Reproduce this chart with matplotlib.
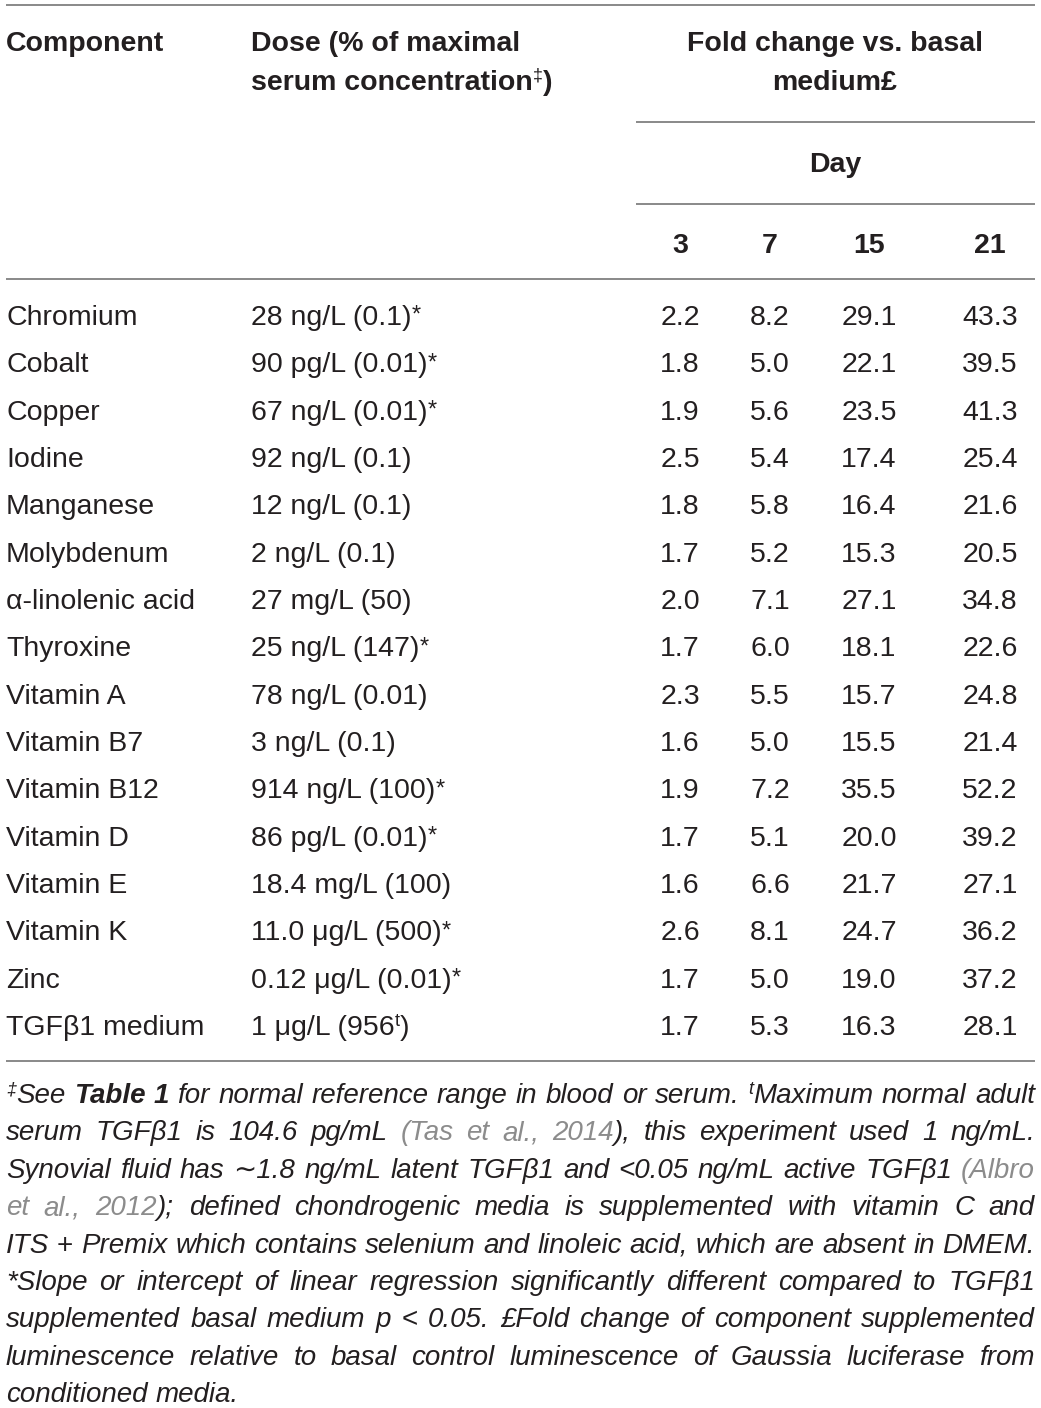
import matplotlib
matplotlib.use("Agg")
import matplotlib.pyplot as plt

# table contents
components = ["Chromium", "Cobalt", "Copper", "Iodine", "Manganese", "Molybdenum",
              "α-linolenic acid", "Thyroxine", "Vitamin A", "Vitamin B7", "Vitamin B12",
              "Vitamin D", "Vitamin E", "Vitamin K", "Zinc", "TGFβ1 medium"]
# '^' toggles superscript
doses = ["28 ng/L (0.1)^*", "90 pg/L (0.01)^*", "67 ng/L (0.01)^*", "92 ng/L (0.1)",
         "12 ng/L (0.1)", "2 ng/L (0.1)", "27 mg/L (50)", "25 ng/L (147)^*",
         "78 ng/L (0.01)", "3 ng/L (0.1)", "914 ng/L (100)^*", "86 pg/L (0.01)^*",
         "18.4 mg/L (100)", "11.0 μg/L (500)^*", "0.12 μg/L (0.01)^*", "1 μg/L (956^t^)"]
days = ["3", "7", "15", "21"]
day3 = [2.2, 1.8, 1.9, 2.5, 1.8, 1.7, 2.0, 1.7, 2.3, 1.6, 1.9, 1.7, 1.6, 2.6, 1.7, 1.7]
day7 = [8.2, 5.0, 5.6, 5.4, 5.8, 5.2, 7.1, 6.0, 5.5, 5.0, 7.2, 5.1, 6.6, 8.1, 5.0, 5.3]
day15 = [29.1, 22.1, 23.5, 17.4, 16.4, 15.3, 27.1, 18.1, 15.7, 15.5, 35.5, 20.0, 21.7, 24.7, 19.0, 16.3]
day21 = [43.3, 39.5, 41.3, 25.4, 21.6, 20.5, 34.8, 22.6, 24.8, 21.4, 52.2, 39.2, 27.1, 36.2, 37.2, 28.1]

# footnote lines: (text, style) pieces; n=italic, b=bold italic, g=grey italic, s=superscript, u=upright
footnote = [
    [("‡", "s"), ("See ", "n"), ("Table 1", "b"),
     (" for normal reference range in blood or serum. ", "n"), ("t", "s"), ("Maximum normal adult", "n")],
    [("serum TGFβ1 is 104.6 pg/mL ", "n"), ("(Tas et al., 2014", "g"),
     ("), this experiment used 1 ng/mL.", "n")],
    [("Synovial fluid has ∼1.8 ng/mL latent TGFβ1 and <0.05 ng/mL active TGFβ1 ", "n"), ("(Albro", "g")],
    [("et al., 2012", "g"), ("); defined chondrogenic media is supplemented with vitamin C and", "n")],
    [("ITS ", "n"), ("+", "u"), (" Premix which contains selenium and linoleic acid, which are absent in DMEM.", "n")],
    [("*Slope or intercept of linear regression significantly different compared to TGFβ1", "n")],
    [("supplemented basal medium p ", "n"), ("<", "u"), (" 0.05. £Fold change of component supplemented", "n")],
    [("luminescence relative to basal control luminescence of Gaussia luciferase from", "n")],
    [("conditioned media.", "n")],
]

W, H = 1041, 1408
INK = "#231f20"
GREY = "#8c8c8c"
RULE = "#808080"
FAM = ["Liberation Sans", "DejaVu Sans"]

fig = plt.figure(figsize=(W / 100, H / 100), dpi=100)
ax = fig.add_axes([0, 0, 1, 1])
ax.set_xlim(0, W)
ax.set_ylim(H, 0)
ax.axis("off")
renderer = fig.canvas.get_renderer()


def put(x, y, s, **kw):
    return ax.text(x, y, s, va="baseline", ha="left", family=FAM, **kw)


def wid(t):
    return t.get_window_extent(renderer).width


def runs(x, y, pieces):
    # pieces: (text, kwargs, dy), drawn left to right
    for s, kw, dy in pieces:
        t = put(x, y + dy, s, **kw)
        x += wid(t)


def rule(x0, x1, y):
    ax.plot([x0, x1], [y, y], color=RULE, lw=1.3, solid_capstyle="butt")


BODY = dict(size=20.5, color=INK)
BOLD = dict(size=20.5, color=INK, weight="bold")
SUP = dict(size=13, color=INK)
STAR = dict(size=17, color=INK)

# header
rule(6, 1035, 5)
put(6, 51, "Component", **BOLD)
put(251, 51, "Dose (% of maximal", **BOLD)
runs(251, 90, [("serum concentration", BOLD, 0), ("‡", SUP, -9), (")", BOLD, 0)])
ax.text(835, 51, "Fold change vs. basal", ha="center", va="baseline", family=FAM, **BOLD)
ax.text(835, 90, "medium£", ha="center", va="baseline", family=FAM, **BOLD)
rule(636, 1035, 122)
ax.text(835, 172, "Day", ha="center", va="baseline", family=FAM, **BOLD)
rule(636, 1035, 204)
col_x = [680, 770, 869, 990]
for cx, d in zip(col_x, days):
    ax.text(cx, 253, d, ha="center", va="baseline", family=FAM, **BOLD)
rule(6, 1035, 279)

# body rows
for i, name in enumerate(components):
    y = 325 + i * 47.33
    put(6, y, name, **BODY)
    parts = doses[i].split("^")
    pieces = []
    for k, p in enumerate(parts):
        if not p:
            continue
        if k % 2 and p == "*":
            pieces.append((p, STAR, -3))
        elif k % 2:
            pieces.append((p, SUP, -9))
        else:
            pieces.append((p, BODY, 0))
    runs(251, y, pieces)
    for cx, col in zip(col_x, [day3, day7, day15, day21]):
        ax.text(cx, y, f"{col[i]:.1f}", ha="center", va="baseline", family=FAM, **BODY)
rule(6, 1035, 1061)

# footnote, justified
FN = dict(size=20, style="italic", color=INK)
STY = {
    "n": (FN, 0),
    "b": (dict(FN, weight="bold"), 0),
    "g": (dict(FN, color=GREY), 0),
    "u": (dict(FN, style="normal"), 0),
    "s": (dict(size=13, style="italic", color=INK), -9),
}
left, right = 6, 1035
for li, line in enumerate(footnote):
    y = 1103 + li * 37.4
    words = [[]]
    for text, st in line:
        for k, p in enumerate(text.split(" ")):
            if k > 0:
                words.append([])
            if p:
                words[-1].append((p, st))
    words = [w for w in words if w]
    widths = []
    for w in words:
        total = 0
        for p, st in w:
            kw, dy = STY[st]
            t = put(0, 0, p, **kw)
            total += wid(t)
            t.remove()
        widths.append(total)
    if li == len(footnote) - 1:
        t = put(0, 0, "a a", **FN)
        gap = wid(t)
        t.remove()
        t = put(0, 0, "aa", **FN)
        gap -= wid(t)
        t.remove()
    else:
        gap = (right - left - sum(widths)) / (len(words) - 1)
    x = left
    for w, ww in zip(words, widths):
        xx = x
        for p, st in w:
            kw, dy = STY[st]
            t = put(xx, y + dy, p, **kw)
            xx += wid(t)
        x += ww + gap

fig.savefig("out.png", dpi=100, facecolor="white")
